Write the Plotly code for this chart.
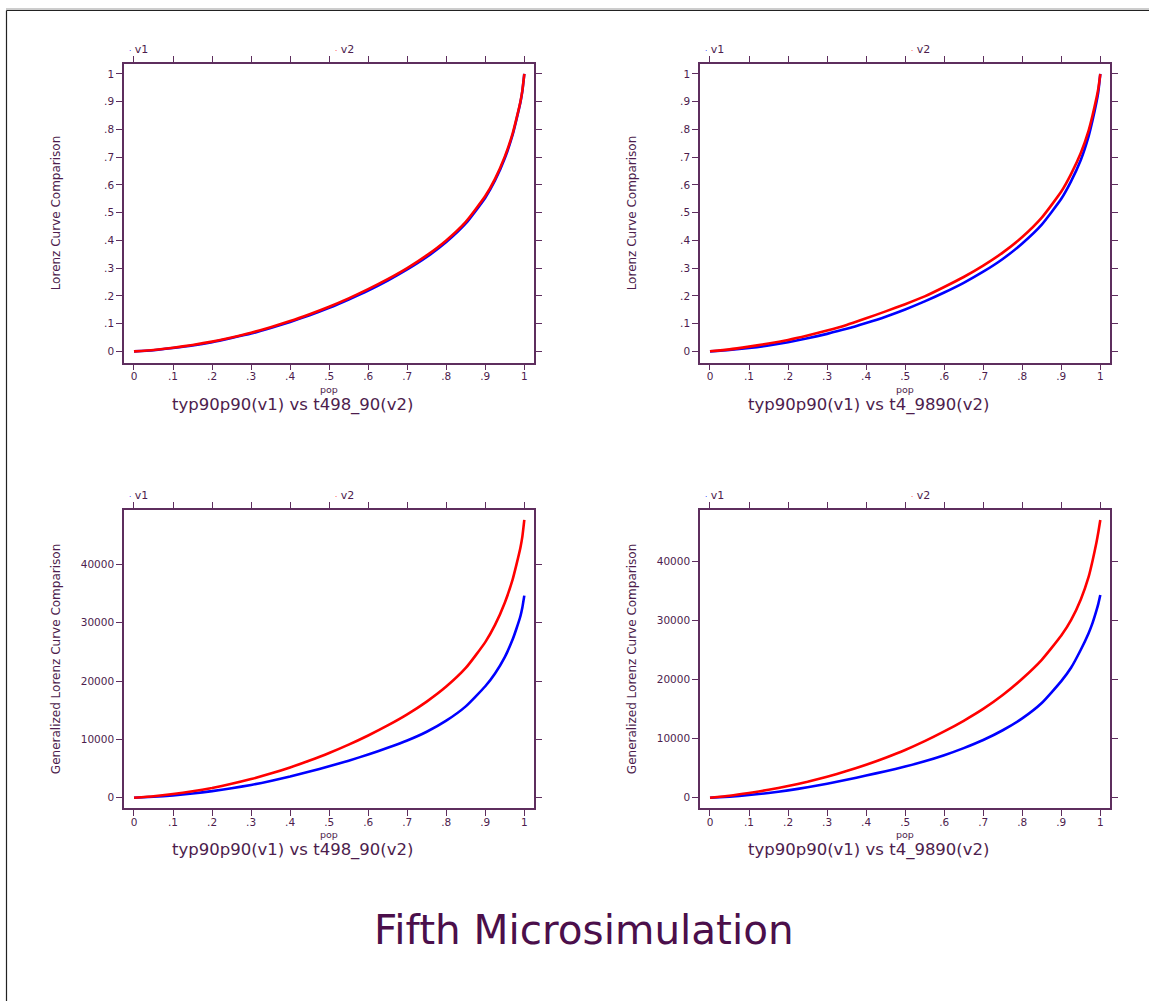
import plotly.graph_objects as go

W, H = 1149, 1001

pop = [0, .05, .1, .15, .2, .25, .3, .35, .4, .45, .5, .55, .6, .65, .7, .75, .8, .85,
       .9, .925, .95, .97, .98, .99, .995, 1]

# Lorenz curves, panel 1 (typ90p90 vs t498_90)
lc1_v1 = [0, .004, .012, .021, .033, .048, .064, .084, .106, .130, .157, .187, .219, .255,
          .295, .340, .394, .461, .554, .616, .696, .780, .836, .897, .938, 1.0]
lc1_v2 = [0, .005, .013, .023, .035, .050, .067, .087, .109, .134, .161, .191, .224, .260,
          .300, .346, .400, .467, .560, .622, .702, .785, .840, .900, .940, 1.0]
# Lorenz curves, panel 2 (typ90p90 vs t4_9890)
lc2_v1 = [0, .005, .012, .021, .033, .047, .063, .081, .102, .125, .151, .180, .212, .247,
          .287, .333, .389, .457, .550, .613, .690, .775, .832, .897, .937, 1.0]
lc2_v2 = [0, .007, .017, .028, .041, .057, .075, .095, .119, .144, .170, .198, .232, .268,
          .309, .356, .412, .482, .576, .639, .715, .796, .850, .912, .948, 1.0]
# Generalized Lorenz curves, panel 3
gl1_v1 = [0, 150, 400, 720, 1120, 1620, 2180, 2860, 3620, 4480, 5400, 6350, 7400, 8550,
          9800, 11300, 13200, 15650, 19100, 21300, 24100, 27100, 29000, 31100, 32600, 34630]
gl1_v2 = [0, 240, 620, 1095, 1670, 2380, 3190, 4140, 5190, 6380, 7660, 9090, 10660, 12380,
          14280, 16470, 19040, 22230, 26660, 29610, 33420, 37370, 39980, 42840, 44740, 47600]
# Generalized Lorenz curves, panel 4
gl2_v1 = [0, 180, 450, 800, 1240, 1760, 2370, 3030, 3740, 4480, 5260, 6150, 7180, 8380,
          9750, 11400, 13400, 16000, 19700, 21950, 25000, 27800, 29500, 31600, 32800, 34250]
gl2_v2 = [0, 330, 790, 1330, 1970, 2700, 3550, 4500, 5560, 6750, 8060, 9550, 11200, 13000,
          15000, 17350, 20100, 23300, 27400, 30000, 33500, 37300, 40000, 43100, 44900, 46930]

x_ticks = [0, .1, .2, .3, .4, .5, .6, .7, .8, .9, 1]
x_ticktext = ["0", ".1", ".2", ".3", ".4", ".5", ".6", ".7", ".8", ".9", "1"]
lc_ticks = x_ticks
lc_ticktext = x_ticktext
gl_ticks = [0, 10000, 20000, 30000, 40000]
gl_ticktext = ["0", "10000", "20000", "30000", "40000"]

captions = ["typ90p90(v1) vs t498_90(v2)", "typ90p90(v1) vs t4_9890(v2)",
            "typ90p90(v1) vs t498_90(v2)", "typ90p90(v1) vs t4_9890(v2)"]
ytitles = ["Lorenz Curve Comparison", "Lorenz Curve Comparison",
           "Generalized Lorenz Curve Comparison", "Generalized Lorenz Curve Comparison"]
series_names = ["v1", "v2"]
main_title = "Fifth Microsimulation"

C_V1 = "#0000ff"
C_V2 = "#ff0000"
TXT = "#4d1d4d"
AX = "#5e2e5e"
FONT = "DejaVu Sans"


def px_x(p):
    return p / W


def px_y(p):
    return 1 - p / H


# panel geometry in pixels: (left, right, top, bottom)
panels = [
    (124, 534.3, 64, 362.7),
    (700, 1110.3, 64, 362.7),
    (124, 534.3, 510, 808.3),
    (700, 1110.3, 510, 808.3),
]
yranges = [[-0.041, 1.036], [-0.041, 1.036], [-1817, 49306], [-1791, 48622]]
data = [(lc1_v1, lc1_v2), (lc2_v1, lc2_v2), (gl1_v1, gl1_v2), (gl2_v1, gl2_v2)]

fig = go.Figure()
annotations = []
layout_axes = {}

for i, ((l, r, t, b), yr, (s1, s2)) in enumerate(zip(panels, yranges, data)):
    n = "" if i == 0 else str(i + 1)
    xa, ya = "x" + n, "y" + n
    for ys, col in ((s1, C_V1), (s2, C_V2)):
        fig.add_trace(go.Scatter(x=pop, y=ys, mode="lines", xaxis=xa, yaxis=ya,
                                 line=dict(color=col, width=2.6, shape="spline", smoothing=0.5),
                                 showlegend=False, hoverinfo="skip"))
    common = dict(showline=True, linecolor=AX, linewidth=1.5, mirror="ticks",
                  ticks="outside", ticklen=6, tickwidth=1.3, tickcolor=AX,
                  showgrid=False, zeroline=False,
                  tickfont=dict(family=FONT, size=10.5, color=TXT))
    layout_axes["xaxis" + n] = dict(domain=[px_x(l), px_x(r)], range=[-0.0256, 1.0256],
                                    anchor=ya, tickvals=x_ticks, ticktext=x_ticktext,
                                    ticklabelstandoff=-3, **common)
    if i < 2:
        yt, ytt = lc_ticks, lc_ticktext
    else:
        yt, ytt = gl_ticks, gl_ticktext
    layout_axes["yaxis" + n] = dict(domain=[px_y(b), px_y(t)], range=yr, anchor=xa,
                                    tickvals=yt, ticktext=ytt, **common)

    # x-axis title "pop"
    annotations.append(dict(x=px_x((l + r) / 2), y=px_y(b + 26.5), xref="paper", yref="paper",
                            text="pop", showarrow=False, xanchor="center", yanchor="middle",
                            font=dict(family=FONT, size=9.5, color=TXT)))
    # caption below
    annotations.append(dict(x=px_x(l + 169), y=px_y(b + 42), xref="paper", yref="paper",
                            text=captions[i], showarrow=False, xanchor="center", yanchor="middle",
                            font=dict(family=FONT, size=16.5, color=TXT)))
    # y-axis title
    annotations.append(dict(x=px_x(l - 68), y=px_y((t + b) / 2), xref="paper", yref="paper",
                            text=ytitles[i], showarrow=False, textangle=-90,
                            xanchor="center", yanchor="middle",
                            font=dict(family=FONT, size=12, color=TXT)))
    # key
    for nm, col, off in ((series_names[0], C_V1, 3), (series_names[1], C_V2, 209)):
        annotations.append(dict(x=px_x(l + off), y=px_y(t - 15), xref="paper", yref="paper",
                                text=f"<span style='color:{col};font-size:7px'>·</span> {nm}",
                                showarrow=False, xanchor="left", yanchor="middle",
                                font=dict(family=FONT, size=11, color=TXT)))

annotations.append(dict(x=px_x(584), y=px_y(930), xref="paper", yref="paper",
                        text=main_title, showarrow=False, xanchor="center", yanchor="middle",
                        font=dict(family=FONT, size=40.5, color="#4b0f4b")))

shapes = [
    dict(type="line", xref="paper", yref="paper", x0=px_x(6), x1=1.01, y0=px_y(9), y1=px_y(9),
         line=dict(color="#9a9a9a", width=1)),
    dict(type="line", xref="paper", yref="paper", x0=px_x(6.5), x1=1.01, y0=px_y(10.5), y1=px_y(10.5),
         line=dict(color="#222222", width=1.2)),
    dict(type="line", xref="paper", yref="paper", x0=px_x(6.5), x1=px_x(6.5), y0=-0.01, y1=px_y(10.5),
         line=dict(color="#222222", width=1.2)),
]

fig.update_layout(width=W, height=H, margin=dict(l=0, r=0, t=0, b=0),
                  paper_bgcolor="white", plot_bgcolor="white",
                  annotations=annotations, shapes=shapes, showlegend=False,
                  **layout_axes)

fig.write_html("out.html", config={"displayModeBar": False},
               post_script="document.body.style.margin='0';")
